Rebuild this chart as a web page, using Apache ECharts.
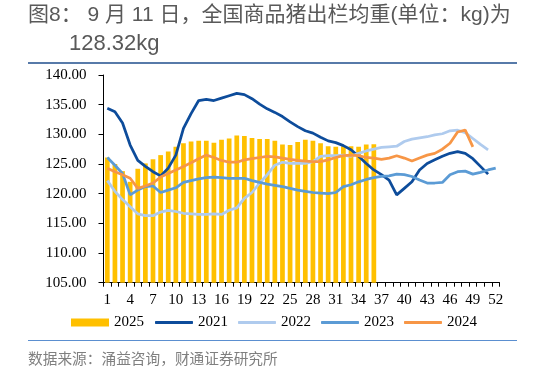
<!DOCTYPE html>
<html>
<head>
<meta charset="utf-8">
<script src="https://cdn.jsdelivr.net/npm/echarts@6/dist/echarts.min.js"></script>
<style>
html,body{margin:0;padding:0;background:#fff;}
#c{width:533px;height:371px;}
</style>
</head>
<body>
<div id="c"></div>
<script>
const weeks = ['1','2','3','4','5','6','7','8','9','10','11','12','13','14','15','16','17','18','19','20','21','22','23','24','25','26','27','28','29','30','31','32','33','34','35','36','37','38','39','40','41','42','43','44','45','46','47','48','49','50','51','52'];
const yTicks = [105, 110, 115, 120, 125, 130, 135, 140];

const y2025 = [126.1,125.0,123.8,122.0,124.2,125.1,125.8,126.5,127.1,127.9,128.5,128.8,128.9,128.9,128.6,129.1,129.3,129.8,129.7,129.4,129.2,129.2,128.9,128.3,128.2,128.7,129.1,128.9,128.5,128.0,127.9,128.0,128.0,127.9,128.3,128.32];
const y2021 = [134.4,133.8,131.9,128.2,125.6,124.6,123.7,123.0,124.3,126.5,131.0,133.5,135.7,135.9,135.7,136.1,136.5,136.9,136.7,136.0,135.1,134.3,133.7,133.0,132.1,131.3,130.6,130.2,129.5,128.9,128.6,128.1,127.4,126.3,125.1,124.0,123.2,122.3,119.8,120.9,122.0,124.0,125.1,125.7,126.3,126.8,127.1,126.8,125.9,124.6,123.3];
const y2022 = [122.2,120.4,119.0,117.8,116.6,116.3,116.3,116.9,117.2,117.0,116.7,116.6,116.5,116.5,116.6,116.5,117.2,117.6,119.2,120.2,121.8,123.2,124.8,125.3,125.1,125.1,125.1,125.4,126.3,126.4,126.4,126.5,126.3,126.8,127.2,127.5,127.8,127.9,128.0,128.8,129.2,129.4,129.6,129.9,130.1,130.6,130.7,130.3,129.3,128.3,127.4];
const y2023 = [126.1,124.8,123.4,119.8,120.6,121.2,121.3,120.2,120.6,121.0,121.9,122.2,122.5,122.7,122.8,122.7,122.6,122.6,122.6,122.2,121.9,121.6,121.4,121.2,120.9,120.6,120.4,120.2,120.1,120.0,120.2,121.2,121.5,122.0,122.4,122.7,122.9,123.0,123.3,123.2,122.9,122.3,121.8,121.8,121.9,123.2,123.7,123.8,123.3,123.6,124.0,124.3];
const y2024 = [124.3,123.7,123.2,122.6,120.9,121.3,121.8,122.8,123.4,124.0,124.6,125.2,125.9,126.5,126.1,125.6,125.3,125.3,125.7,125.9,126.1,126.3,126.2,126.0,125.8,125.6,125.5,125.4,125.4,125.7,126.1,126.4,126.5,126.4,126.1,126.0,125.8,126.0,126.4,126.0,125.5,126.0,126.5,126.8,127.5,128.5,130.4,130.7,127.9];

const titleLine1 = '图8： 9 月 11 日，全国商品猪出栏均重(单位：kg)为';
const titleLine2 = '128.32kg';
const sourceText = '数据来源：涌益咨询，财通证券研究所';

const serif = '"Liberation Serif", "DejaVu Serif", serif';
const sans = '"Liberation Sans", "Noto Sans CJK SC", sans-serif';

const chart = echarts.init(document.getElementById('c'), null, {renderer: 'canvas'});

function lineSeries(name, data, color) {
  return {
    name: name, type: 'line', data: data, symbol: 'none', smooth: false,
    lineStyle: {color: color, width: 2.75}, itemStyle: {color: color},
    emphasis: {disabled: true}, z: 3
  };
}

chart.setOption({
  animation: false,
  backgroundColor: '#fff',
  grid: {left: 103.5, right: 33.5, top: 75, bottom: 88.3, containLabel: false},
  xAxis: {
    type: 'category', data: weeks, boundaryGap: true,
    axisLine: {lineStyle: {color: '#000', width: 1}},
    axisTick: {show: true, interval: 0, length: 4, inside: false, lineStyle: {color: '#000'}},
    axisLabel: {interval: 2, margin: 10, color: '#000', fontFamily: serif, fontSize: 15}
  },
  yAxis: {
    type: 'value', min: yTicks[0], max: yTicks[yTicks.length - 1], interval: 5,
    axisLine: {show: true, lineStyle: {color: '#000', width: 1}},
    axisTick: {show: true, length: 5, lineStyle: {color: '#000'}},
    splitLine: {show: false},
    axisLabel: {margin: 17, color: '#000', fontFamily: serif, fontSize: 15,
      formatter: function (v) { return v.toFixed(2); }}
  },
  legend: [
    {data: ['2025'], left: 71, top: 315, padding: 0, itemWidth: 38, itemHeight: 8, icon: 'rect',
      textStyle: {fontFamily: serif, fontSize: 15, color: '#000'}},
    {data: ['2021', '2022', '2023', '2024'], left: 155, top: 315, padding: 0, itemWidth: 38, itemHeight: 3,
      itemGap: 10, icon: 'roundRect',
      textStyle: {fontFamily: serif, fontSize: 15, color: '#000'}}
  ],
  series: [
    {name: '2025', type: 'bar', data: y2025, barWidth: '62%', itemStyle: {color: '#FFC000'}, z: 2},
    lineSeries('2021', y2021, '#0D4C9B'),
    lineSeries('2022', y2022, '#AFCBEE'),
    lineSeries('2023', y2023, '#5B9BD5'),
    lineSeries('2024', y2024, '#F79646')
  ],
  graphic: [
    {type: 'text', left: 28, top: 5, style: {text: titleLine1, font: '21px ' + sans, fill: '#595959'}},
    {type: 'text', left: 69, top: 33, style: {text: titleLine2, font: '22px ' + sans, fill: '#595959'}},
    {type: 'line', shape: {x1: 28, y1: 63, x2: 517, y2: 63}, style: {stroke: '#1F4E8C', lineWidth: 1.5}},
    {type: 'line', shape: {x1: 28, y1: 340.5, x2: 517, y2: 340.5}, style: {stroke: '#5B8FD0', lineWidth: 1.2}},
    {type: 'text', left: 28, top: 353, style: {text: sourceText, font: '14.7px ' + sans, fill: '#7F7F7F'}}
  ]
});
</script>
</body>
</html>
